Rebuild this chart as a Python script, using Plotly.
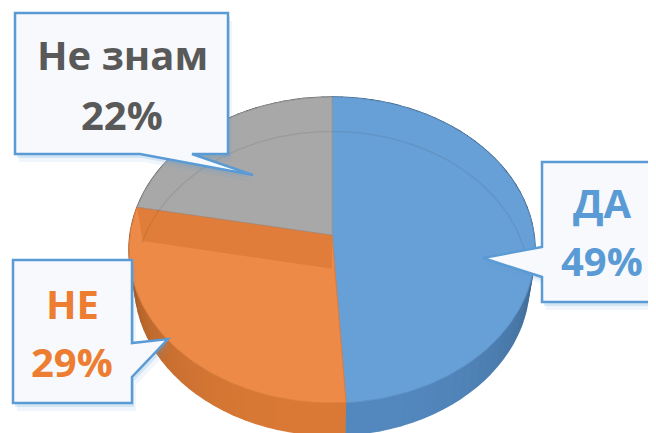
import numpy as np
import plotly.graph_objects as go

# ---- data ----
labels = ["ДА", "НЕ", "Не знам"]
values = [49, 29, 22]
pct_text = ["49%", "29%", "22%"]
top_colors = ["#67A0D7", "#EE8A47", "#A8A8A8"]
side_colors = ["#5489C0", "#DB7A36", "#8E8E8E"]
text_colors = ["#5B9BD5", "#ED7D31", "#595959"]

# ---- 3D projection of the pie (perspective) ----
CX, CY = 332, 235
E = np.radians(48.6)
D = 6.72
F = 202 * D
T = 0.26


def proj(a_deg, r, h):
    a = np.radians(np.asarray(a_deg, dtype=float))
    r = np.asarray(r, dtype=float)
    h = np.asarray(h, dtype=float)
    X = r * np.sin(a)
    Z = r * np.cos(a)
    up = h * np.cos(E) + Z * np.sin(E)
    depth = Z * np.cos(E) - h * np.sin(E) + D
    return CX + F * X / depth, CY - F * up / depth


def shade(hexc, k):
    hexc = hexc.lstrip("#")
    r, g, b = (int(hexc[i:i + 2], 16) for i in (0, 2, 4))
    return "rgb(%d,%d,%d)" % (min(255, r * k), min(255, g * k), min(255, b * k))


total = sum(values)
starts, ends = [], []
acc = 0.0
for v in values:
    starts.append(360 * acc / total)
    acc += v
    ends.append(360 * acc / total)

fig = go.Figure()

# side walls (drawn in small segments for shading)
for i in range(len(values)):
    a1, a2 = starts[i], ends[i]
    n = max(2, int((a2 - a1) / 3))
    edges = np.linspace(a1, a2, n + 1)
    for j in range(n):
        s0, s1 = edges[j], edges[j + 1]
        mid = 0.5 * (s0 + s1)
        k = 0.58 + 0.42 * max(0.0, -np.cos(np.radians(mid))) ** 0.5
        aa = np.linspace(s0, s1, 4)
        xt, yt = proj(aa, 1, 0)
        xb, yb = proj(aa[::-1], 1, -T)
        c = shade(side_colors[i], k)
        fig.add_trace(go.Scatter(
            x=np.concatenate([xt, xb]), y=np.concatenate([yt, yb]),
            fill="toself", mode="lines", line=dict(width=1.6, color=c),
            fillcolor=c, hoverinfo="skip", showlegend=False))

# top faces
cx0, cy0 = proj(0, 0, 0)
for i in range(len(values)):
    aa = np.linspace(starts[i], ends[i], 120)
    xs, ys = proj(aa, 1, 0)
    fig.add_trace(go.Scatter(
        x=np.concatenate([[cx0], xs, [cx0]]), y=np.concatenate([[cy0], ys, [cy0]]),
        fill="toself", mode="lines", line=dict(width=1, color=shade(top_colors[i], 0.92)),
        fillcolor=top_colors[i], hoverinfo="skip", showlegend=False, name=labels[i]))

# radial wall of the "НЕ" slice seen through its top (Excel rendering)
i = 1
xa, ya = proj([ends[i], 0], [1, 0], [0, 0])
xb, yb = proj([0, ends[i]], [0, 1], [-T, -T])
fig.add_trace(go.Scatter(
    x=np.concatenate([xa, xb]), y=np.concatenate([ya, yb]),
    fill="toself", mode="lines", line=dict(width=0),
    fillcolor="rgba(205,105,40,0.40)", hoverinfo="skip", showlegend=False))

# faint back-bottom rim seen through the top
aa = np.linspace(-80, 88, 120)
xr, yr = proj(aa, 1, -T)
fig.add_trace(go.Scatter(x=xr, y=yr, mode="lines",
                         line=dict(width=1.2, color="rgba(60,60,60,0.13)"),
                         hoverinfo="skip", showlegend=False))

# ---- callouts ----
BLUE = "#5B9BD5"
FILL = "#F7F9FC"
callouts = [
    [(542, 162), (680, 162), (680, 302), (542, 302), (542, 277), (483, 258), (542, 247)],
    [(13, 260), (132, 260), (132, 343), (168, 339), (132, 377), (132, 403), (13, 403)],
    [(15, 13), (228, 13), (228, 154), (192, 154), (253, 175), (140, 154), (15, 154)],
]


def to_path(pts, dx=0, dy=0):
    return "M " + " L ".join("%g,%g" % (x + dx, y + dy) for x, y in pts) + " Z"


for pts in callouts:
    for dx, dy, op in ((2, 4, 0.18), (4, 8, 0.09)):
        fig.add_shape(type="path", path=to_path(pts, dx, dy), xref="x", yref="y",
                      fillcolor="rgba(91,155,213,%.2f)" % op,
                      line=dict(width=0), layer="above")
for pts in callouts:
    fig.add_shape(type="path", path=to_path(pts), xref="x", yref="y",
                  fillcolor=FILL, line=dict(width=2.5, color=BLUE), layer="above")

label_pos = [(602, 202, 260), (72, 303, 361), (122, 54, 114)]
for i in range(len(values)):
    x, y1, y2 = label_pos[i]
    for txt, yy in ((labels[i], y1), (pct_text[i], y2)):
        fig.add_annotation(x=x, y=yy, xref="x", yref="y", text="<b>%s</b>" % txt,
                           showarrow=False, xanchor="center", yanchor="middle",
                           font=dict(family="Open Sans", size=40, color=text_colors[i]))

# page body has an 8px margin: shift the data window to compensate
fig.update_xaxes(range=[8, 656], visible=False, fixedrange=True)
fig.update_yaxes(range=[433, 8], visible=False, fixedrange=True)
fig.update_layout(width=648, height=425, margin=dict(l=0, r=0, t=0, b=0),
                  paper_bgcolor="white", plot_bgcolor="white", showlegend=False)
fig.write_html("out.html")
